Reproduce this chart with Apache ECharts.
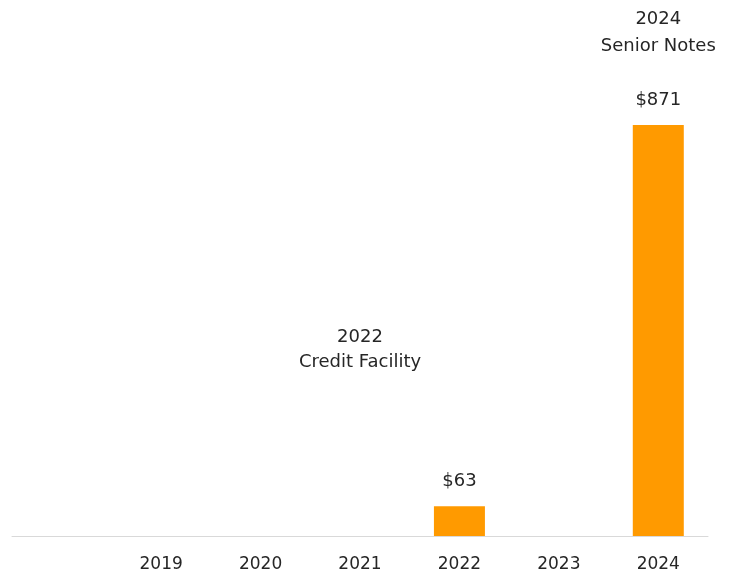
<!DOCTYPE html>
<html>
<head>
<meta charset="utf-8">
<script src="https://cdn.jsdelivr.net/npm/echarts@6/dist/echarts.min.js"></script>
<style>html,body{margin:0;padding:0;background:#fff;}#c{width:729px;height:573px;}</style>
</head>
<body>
<div id="c"></div>
<script>
const categories = ['', '2019', '2020', '2021', '2022', '2023', '2024'];
const values = [null, 0, 0, 0, 63, 0, 871];
const valueLabels = ['', '', '', '', '$63', '', '$871'];
const noteLabels = ['', '', '', '', '', '', '2024\nSenior Notes'];
const note2022 = { text: '2022\nCredit Facility', category: '2021', value: 395 };

const font = 'DejaVu Sans';
const chart = echarts.init(document.getElementById('c'));
chart.setOption({
  animation: false,
  grid: { left: 12, right: 21, top: 125, bottom: 36 },
  xAxis: {
    type: 'category',
    data: categories,
    axisLine: { lineStyle: { color: '#d9d9d9', width: 1 } },
    axisTick: { show: false },
    axisLabel: { color: '#262626', fontFamily: font, fontSize: 17, margin: 20 }
  },
  yAxis: {
    type: 'value', min: 0, max: 871, show: false,
    splitLine: { show: false }
  },
  series: [{
    type: 'bar',
    data: values,
    barWidth: 51,
    itemStyle: { color: '#FF9A00' },
    label: {
      show: true,
      position: 'top',
      distance: 11,
      color: '#262626',
      fontFamily: font,
      fontSize: 18,
      lineHeight: 27,
      align: 'center',
      formatter: p => {
        const v = valueLabels[p.dataIndex];
        if (!v) return '';
        const n = noteLabels[p.dataIndex];
        return n ? n + '\n\n' + v : v;
      }
    },
    markPoint: {
      symbol: 'circle',
      symbolSize: 0,
      silent: true,
      label: {
        show: true,
        position: 'inside',
        color: '#262626',
        fontFamily: font,
        fontSize: 18,
        lineHeight: 25,
        align: 'center',
        formatter: note2022.text
      },
      data: [{ coord: [note2022.category, note2022.value] }]
    }
  }]
});
</script>
</body>
</html>
